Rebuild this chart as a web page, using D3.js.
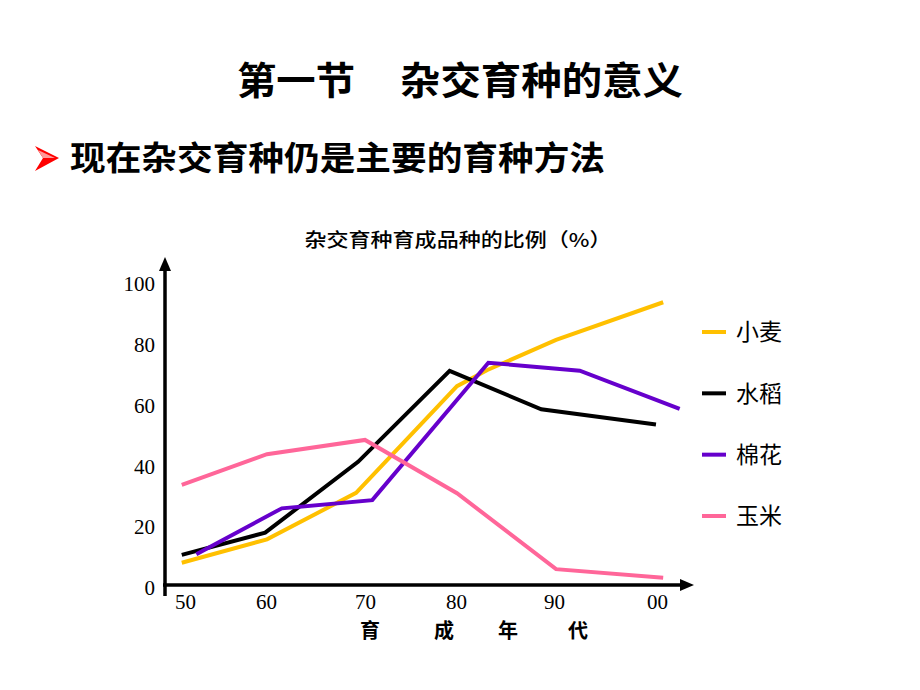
<!DOCTYPE html>
<html><head><meta charset="utf-8">
<script src="https://cdn.jsdelivr.net/npm/d3@7"></script>
<style>body{margin:0;background:#fff}</style>
</head><body>
<svg id="c" width="920" height="690"></svg>
<script>
// ---- data ----
const yearTicks = [50, 60, 70, 80, 90, 100];
const yearLabels = ["50", "60", "70", "80", "90", "00"];
const valueTicks = [0, 20, 40, 60, 80, 100];
const seriesNames = ["小麦", "水稻", "棉花", "玉米"];
const wheatYears  = [49.6, 60.1, 69.1, 80.1, 83.2, 90.2, 100.6];
const wheatValues = [8.3, 16.0, 31.3, 66.4, 71.7, 81.6, 94.0];
const riceYears   = [49.6, 59.9, 69.3, 79.3, 88.7, 99.9];
const riceValues  = [10.9, 18.2, 41.5, 71.4, 58.8, 53.8];
const cottonYears = [51.4, 61.6, 70.8, 83.3, 92.5, 102.2];
const cottonValues= [11.1, 26.2, 28.9, 74.1, 71.5, 58.9];
const cornYears   = [49.6, 60.1, 70.0, 80.1, 90.2, 100.6];
const cornValues  = [33.9, 44.0, 48.7, 31.2, 6.2, 3.4];
const chartTitle = "杂交育种育成品种的比例（%）";
const axisTitleChars = ["育", "成", "年", "代"];
const heading1 = "第一节";
const heading2 = "杂交育种的意义";
const subHeading = "现在杂交育种仍是主要的育种方法";

const colors = ["#FFC000", "#000000", "#6600CC", "#FF6699"];
const series = [
  {name: seriesNames[0], xs: wheatYears, ys: wheatValues},
  {name: seriesNames[1], xs: riceYears, ys: riceValues},
  {name: seriesNames[2], xs: cottonYears, ys: cottonValues},
  {name: seriesNames[3], xs: cornYears, ys: cornValues}
];

const svg = d3.select("#c");
const cjk = "'Noto Sans CJK SC', 'Noto Sans', sans-serif";
const num = "'Liberation Serif', 'DejaVu Serif', serif";

// headings
svg.append("text").attr("x", 237).attr("y", 94).attr("font-family", cjk)
  .attr("font-weight", "bold").attr("font-size", 38).attr("textLength", 118)
  .attr("lengthAdjust", "spacingAndGlyphs").text(heading1);
svg.append("text").attr("x", 400).attr("y", 94).attr("font-family", cjk)
  .attr("font-weight", "bold").attr("font-size", 38).attr("textLength", 283)
  .attr("lengthAdjust", "spacingAndGlyphs").text(heading2);
svg.append("path").attr("d", "M35,146 L59,158 L35,171 L43,158 Z").attr("fill", "#FF0000");
svg.append("path").attr("d", "M38,150 L55,158 L43,158 Z").attr("fill", "#FF9999");
svg.append("text").attr("x", 70).attr("y", 170).attr("font-family", cjk)
  .attr("font-weight", "bold").attr("font-size", 33).attr("textLength", 535)
  .attr("lengthAdjust", "spacingAndGlyphs").text(subHeading);

// chart title
svg.append("text").attr("x", 458).attr("y", 247).attr("text-anchor", "middle")
  .attr("font-family", cjk).attr("font-size", 19).attr("font-weight", 500)
  .attr("textLength", 307).attr("lengthAdjust", "spacingAndGlyphs").text(chartTitle);

// scales
const x = d3.scaleLinear().domain(yearTicks).range([185, 266, 365, 456, 554, 657]);
const y = d3.scaleLinear().domain([0, 100]).range([588, 284]);
const axisX = 165, axisY = 585;

// y axis labels
const ya = svg.append("g").attr("transform", `translate(${axisX},0)`)
  .call(d3.axisLeft(y).tickValues(valueTicks).tickSize(0).tickPadding(10));
ya.select(".domain").remove();
ya.selectAll("text").attr("font-family", num).attr("font-size", 21).attr("fill", "#000");

// x axis labels
const xa = svg.append("g").attr("transform", `translate(0,${axisY})`)
  .call(d3.axisBottom(x).tickValues(yearTicks).tickSize(0).tickPadding(9)
    .tickFormat((d, i) => yearLabels[i]));
xa.select(".domain").remove();
xa.selectAll("text").attr("font-family", num).attr("font-size", 21).attr("fill", "#000");

// axis lines with arrows
svg.append("line").attr("x1", axisX).attr("x2", axisX).attr("y1", 596).attr("y2", 268)
  .attr("stroke", "#000").attr("stroke-width", 3.5);
svg.append("path").attr("d", `M${axisX},257 L${axisX - 6},271 L${axisX + 6},271 Z`).attr("fill", "#000");
svg.append("line").attr("x1", axisX - 2).attr("x2", 682).attr("y1", axisY).attr("y2", axisY)
  .attr("stroke", "#000").attr("stroke-width", 3.5);
svg.append("path").attr("d", `M694,${axisY} L680,${axisY - 6} L680,${axisY + 6} Z`).attr("fill", "#000");

// axis title
svg.append("text").attr("x", [370, 444, 508, 578].join(" ")).attr("y", 638)
  .attr("text-anchor", "middle").attr("font-family", cjk).attr("font-size", 20)
  .attr("font-weight", "bold")
  .text(axisTitleChars.join(""));

// lines
const line = d3.line().x(d => x(d[0])).y(d => y(d[1]));
series.forEach((s, i) => {
  const pts = s.xs.map((v, j) => [v, s.ys[j]]);
  svg.append("path").datum(pts).attr("d", line).attr("fill", "none")
    .attr("stroke", colors[i]).attr("stroke-width", 4).attr("stroke-linejoin", "miter");
});

// legend
const legendY = d3.scalePoint().domain(seriesNames).range([332, 516]);
const lg = svg.append("g");
seriesNames.forEach((n, i) => {
  lg.append("line").attr("x1", 702).attr("x2", 726).attr("y1", legendY(n)).attr("y2", legendY(n))
    .attr("stroke", colors[i]).attr("stroke-width", 4);
  lg.append("text").attr("x", 736).attr("y", legendY(n)).attr("dy", "0.36em")
    .attr("font-family", cjk).attr("font-size", 23).text(n);
});
</script>
</body></html>
